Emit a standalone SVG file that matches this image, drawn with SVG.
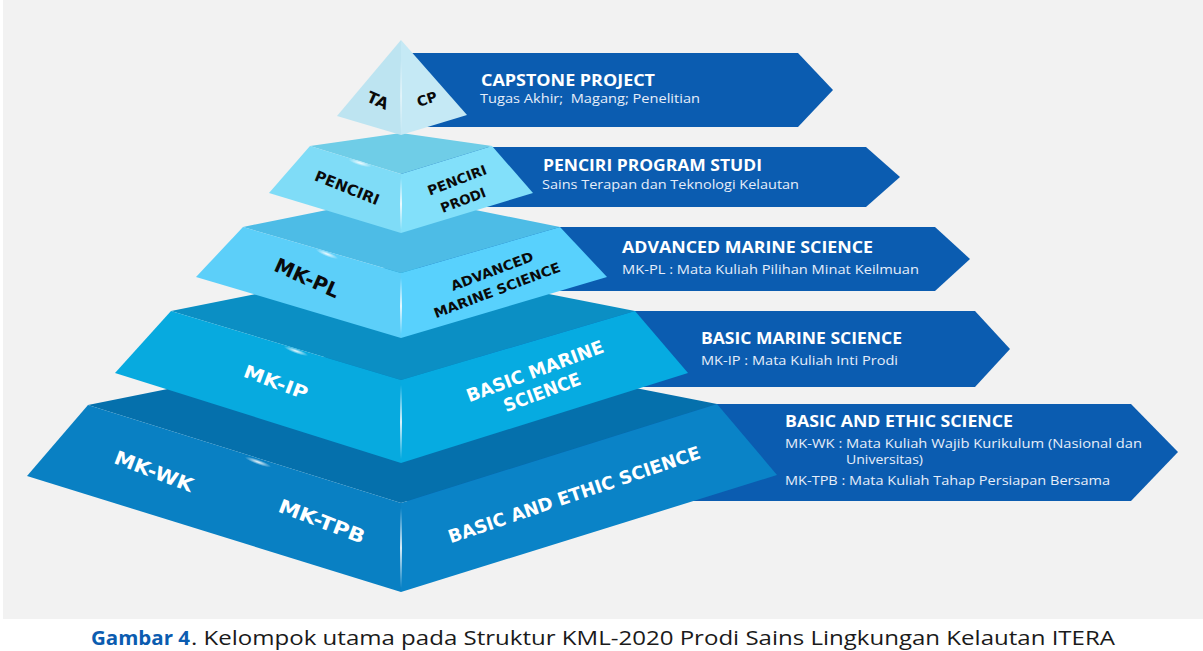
<svg xmlns="http://www.w3.org/2000/svg" width="1203" height="651" viewBox="0 0 1203 651">
<defs>
<style>
.arrow{fill:#0b5cb0}
.ttl{font-family:"Open Sans","Liberation Sans",sans-serif;font-weight:700;font-size:16px;fill:#ffffff}
.sub{font-family:"Open Sans","Liberation Sans",sans-serif;font-weight:400;font-size:13px;fill:#e6eefa}
.lblk{font-family:"DejaVu Sans","Open Sans",sans-serif;font-weight:700;fill:#0a0a0a;text-anchor:middle}
.lwht{font-family:"DejaVu Sans","Open Sans",sans-serif;font-weight:700;fill:#ffffff;text-anchor:middle}
.cap{font-family:"Open Sans","Liberation Sans",sans-serif;font-size:20px}
</style>
<linearGradient id="gleam" x1="0" y1="0" x2="0" y2="1">
<stop offset="0" stop-color="#ffffff" stop-opacity="0"/>
<stop offset="0.5" stop-color="#ffffff" stop-opacity="0.85"/>
<stop offset="1" stop-color="#ffffff" stop-opacity="0"/>
</linearGradient>
<radialGradient id="glint">
<stop offset="0" stop-color="#ffffff" stop-opacity="0.9"/>
<stop offset="1" stop-color="#ffffff" stop-opacity="0"/>
</radialGradient>
</defs>
<rect x="0" y="0" width="1203" height="651" fill="#ffffff"/>
<rect x="3" y="0" width="1200" height="619" fill="#f2f2f2"/>

<g id="connectors">
<polygon class="arrow" points="401,53 798,53 833,90 798,127 401,127"/>
<polygon class="arrow" points="401,147 866,147 900,177 866,207 401,207"/>
<polygon class="arrow" points="401,227 935,227 970,259 935,291 401,291"/>
<polygon class="arrow" points="401,311 975,311 1010,349 975,387 401,387"/>
<polygon class="arrow" points="401,404 1131,404 1178,452 1131,501 401,501"/>
</g>

<g id="tier-5">
<polygon points="88,405 401,342 717,404 401,503" fill="#0570ac"/>
<polygon points="88,405 401,503 401,592 27,476" fill="#0980c3"/>
<polygon points="401,503 717,404 777,475 401,592" fill="#0a83c7"/>
<rect x="400" y="508" width="2" height="80" fill="url(#gleam)"/>
<ellipse cx="258" cy="462" rx="14" ry="2.5" transform="rotate(20 258 462)" fill="url(#glint)"/>
<text class="lwht" font-size="19" textLength="83" lengthAdjust="spacingAndGlyphs" transform="translate(154,471) rotate(21)" y="7">MK-WK</text>
<text class="lwht" font-size="19" textLength="91" lengthAdjust="spacingAndGlyphs" transform="translate(322,521) rotate(21)" y="7">MK-TPB</text>
<text class="lwht" font-size="18" textLength="265" lengthAdjust="spacingAndGlyphs" transform="translate(574,494) rotate(-18.8)" y="7">BASIC AND ETHIC SCIENCE</text>
</g>

<g id="tier-4">
<polygon points="171,311 401,265 635,311 401,380" fill="#0b8fc4"/>
<polygon points="171,311 401,380 401,463 115,373" fill="#07aadf"/>
<polygon points="401,380 635,311 688,373 401,463" fill="#06abe1"/>
<rect x="400" y="385" width="2" height="74" fill="url(#gleam)"/>
<ellipse cx="296" cy="351" rx="13" ry="2.5" transform="rotate(20 296 351)" fill="url(#glint)"/>
<text class="lwht" font-size="18" textLength="67" lengthAdjust="spacingAndGlyphs" transform="translate(276,382) rotate(20.5)" y="6.5">MK-IP</text>
<text class="lwht" font-size="18" textLength="145" lengthAdjust="spacingAndGlyphs" transform="translate(535,371) rotate(-20.4)" y="6.5">BASIC MARINE</text>
<text class="lwht" font-size="18" textLength="81" lengthAdjust="spacingAndGlyphs" transform="translate(542,392) rotate(-20.4)" y="6.5">SCIENCE</text>
</g>

<g id="tier-3">
<polygon points="243,227 401,195 560,227 401,273" fill="#4dbce6"/>
<polygon points="243,227 401,273 401,338 196,277" fill="#5ccff9"/>
<polygon points="401,273 560,227 607,277 401,338" fill="#58d1fd"/>
<rect x="400" y="278" width="2" height="56" fill="url(#gleam)"/>
<ellipse cx="327" cy="254" rx="12" ry="2.5" transform="rotate(22 327 254)" fill="url(#glint)"/>
<text class="lblk" font-size="20" textLength="69" lengthAdjust="spacingAndGlyphs" transform="translate(307,278) rotate(24)" y="7">MK-PL</text>
<text class="lblk" font-size="13.5" textLength="87" lengthAdjust="spacingAndGlyphs" transform="translate(492,271) rotate(-20.6)" y="5">ADVANCED</text>
<text class="lblk" font-size="13.5" textLength="134" lengthAdjust="spacingAndGlyphs" transform="translate(497,290) rotate(-20.6)" y="5">MARINE SCIENCE</text>
</g>

<g id="tier-2">
<polygon points="310,146 401,133 492,146 401,174" fill="#6fcde7"/>
<polygon points="310,146 401,174 401,233 269,193" fill="#7fdcf7"/>
<polygon points="401,174 492,146 533,193 401,233" fill="#82e0fa"/>
<rect x="400" y="178" width="2" height="52" fill="url(#gleam)"/>
<ellipse cx="360" cy="163" rx="12" ry="2.5" transform="rotate(17 360 163)" fill="url(#glint)"/>
<text class="lblk" font-size="15" textLength="68" lengthAdjust="spacingAndGlyphs" transform="translate(347,188) rotate(22)" y="5">PENCIRI</text>
<text class="lblk" font-size="13.5" textLength="62" lengthAdjust="spacingAndGlyphs" transform="translate(457,180) rotate(-21)" y="5">PENCIRI</text>
<text class="lblk" font-size="13.5" textLength="47" lengthAdjust="spacingAndGlyphs" transform="translate(463,200) rotate(-21)" y="5">PRODI</text>
</g>

<g id="tier-1">
<polygon points="401,40 337,116 401,135" fill="#bde4f1"/>
<polygon points="401,40 467,115 401,135" fill="#c5e9f5"/>
<rect x="400" y="60" width="2" height="72" fill="url(#gleam)" opacity="0.6"/>
<text class="lblk" font-size="16" transform="translate(378,100) rotate(24)" y="6">TA</text>
<text class="lblk" font-size="14" transform="translate(427,99) rotate(-18)" y="5">CP</text>
</g>

<g id="label-capstone">
<text class="ttl" x="481" y="86" textLength="174" lengthAdjust="spacingAndGlyphs">CAPSTONE PROJECT</text>
<text class="sub" x="480" y="103" textLength="220" lengthAdjust="spacingAndGlyphs">Tugas Akhir;&#160; Magang; Penelitian</text>
</g>
<g id="label-penciri">
<text class="ttl" x="543" y="171" textLength="219" lengthAdjust="spacingAndGlyphs">PENCIRI PROGRAM STUDI</text>
<text class="sub" x="542" y="188.5" textLength="257" lengthAdjust="spacingAndGlyphs">Sains Terapan dan Teknologi Kelautan</text>
</g>
<g id="label-advanced">
<text class="ttl" x="622" y="253" textLength="251" lengthAdjust="spacingAndGlyphs">ADVANCED MARINE SCIENCE</text>
<text class="sub" x="622" y="274" textLength="297" lengthAdjust="spacingAndGlyphs">MK-PL : Mata Kuliah Pilihan Minat Keilmuan</text>
</g>
<g id="label-basic">
<text class="ttl" x="701" y="344" textLength="201" lengthAdjust="spacingAndGlyphs">BASIC MARINE SCIENCE</text>
<text class="sub" x="701" y="365" textLength="197" lengthAdjust="spacingAndGlyphs">MK-IP : Mata Kuliah Inti Prodi</text>
</g>
<g id="label-ethic">
<text class="ttl" x="785" y="427" textLength="228" lengthAdjust="spacingAndGlyphs">BASIC AND ETHIC SCIENCE</text>
<text class="sub" x="785" y="448" textLength="357" lengthAdjust="spacingAndGlyphs">MK-WK : Mata Kuliah Wajib Kurikulum (Nasional dan</text>
<text class="sub" x="846" y="464" textLength="77" lengthAdjust="spacingAndGlyphs">Universitas)</text>
<text class="sub" x="785" y="485" textLength="325" lengthAdjust="spacingAndGlyphs">MK-TPB : Mata Kuliah Tahap Persiapan Bersama</text>
</g>

<g id="caption">
<text class="cap" x="91" y="645" font-weight="700" fill="#0b5cb0" textLength="99" lengthAdjust="spacingAndGlyphs">Gambar 4</text>
<text class="cap" x="191" y="645" fill="#1a1a1a" textLength="924" lengthAdjust="spacingAndGlyphs">. Kelompok utama pada Struktur KML-2020 Prodi Sains Lingkungan Kelautan ITERA</text>
</g>
</svg>
